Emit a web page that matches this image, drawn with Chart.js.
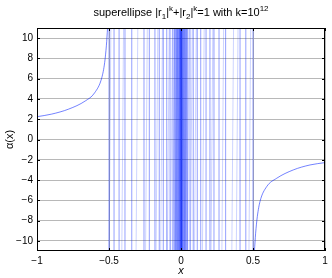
<!DOCTYPE html>
<html>
<head>
<meta charset="utf-8">
<script src="https://cdn.jsdelivr.net/npm/chart.js@4/dist/chart.umd.min.js"></script>
<style>
  html, body { margin: 0; padding: 0; background: #fff; }
  #wrap { width: 332px; height: 278px; }
</style>
</head>
<body>
<div id="wrap"><canvas id="superChart"></canvas></div>
<script>
// values
var xTicks = [-1, -0.5, 0, 0.5, 1];
var yTicks = [-10, -8, -6, -4, -2, 0, 2, 4, 6, 8, 10];

// outer branches
var leftX = [-1, -0.9, -0.78, -0.665, -0.6, -0.55, -0.53, -0.518, -0.51];
var leftY = [2.25, 2.5, 3.0, 3.8, 4.6, 6.1, 7.6, 9.3, 11];
var rightX = [0.51, 0.518, 0.53, 0.549, 0.595, 0.665, 0.78, 0.896, 1];
var rightY = [-11, -9.3, -7.6, -6.1, -4.65, -3.82, -3.0, -2.51, -2.28];

// near vertical branches between -0.5 and 0.5
var darkLines = [-0.5, -0.465, -0.43, -0.389, -0.342, -0.257, -0.22, -0.181, -0.151, -0.123, -0.099, -0.076,
  -0.056, -0.046, -0.038, -0.031, -0.025, -0.02, -0.015, -0.011, -0.007, -0.004, -0.002, 0,
  0.002, 0.004, 0.007, 0.011, 0.015, 0.02, 0.025, 0.031, 0.038, 0.046, 0.0625,
  0.085, 0.113, 0.137, 0.174, 0.201, 0.229, 0.264, 0.31, 0.41, 0.45, 0.5];
var paleLines = [-0.493, -0.405, -0.306, -0.24, -0.167, -0.135, -0.088, -0.066, -0.05, -0.035, -0.028, -0.017,
  -0.009, 0.009, 0.017, 0.028, 0.035, 0.05, 0.072, 0.1, 0.155, 0.215, 0.29, 0.359, 0.39, 0.478];

function vertPoints(list, slant) {
  var pts = [];
  list.forEach(function (x) {
    pts.push({x: x - slant, y: -11});
    pts.push({x: x + slant, y: 11});
    pts.push({x: x, y: null});
  });
  return pts;
}

function zipPoints(xs, ys) {
  return xs.map(function (x, i) { return {x: x, y: ys[i]}; });
}

var fontName = '"Liberation Sans", Arial, Helvetica, sans-serif';

//title with sub/superscripts
var titlePlugin = {
  id: 'mlTitle',
  afterDraw: function (chart) {
    var ctx = chart.ctx;
    var parts = [
      ['superellipse |r', 0], ['1', -1], ['|', 0], ['k', 1], ['+|r', 0], ['2', -1],
      ['|', 0], ['k', 1], ['=1 with k=10', 0], ['12', 1]
    ];
    var total = 0;
    parts.forEach(function (p) {
      ctx.font = (p[1] ? 8 : 11) + 'px ' + fontName;
      total += ctx.measureText(p[0]).width;
    });
    var area = chart.chartArea;
    var x = (area.left + area.right) / 2 - total / 2;
    var base = 16;
    ctx.save();
    ctx.fillStyle = '#000';
    ctx.textBaseline = 'alphabetic';
    ctx.textAlign = 'left';
    parts.forEach(function (p) {
      ctx.font = (p[1] ? 8 : 11) + 'px ' + fontName;
      var dy = p[1] === 1 ? -5 : (p[1] === -1 ? 3 : 0);
      ctx.fillText(p[0], x, base + dy);
      x += ctx.measureText(p[0]).width;
    });
    ctx.restore();
  }
};

// axes box and inward ticks
var boxPlugin = {
  id: 'mlBox',
  afterDatasetsDraw: function (chart) {
    var ctx = chart.ctx;
    var a = chart.chartArea;
    var xs = chart.scales.x, ys = chart.scales.y;
    ctx.save();
    ctx.strokeStyle = '#000';
    ctx.lineWidth = 1;
    ctx.strokeRect(a.left + 0.5, a.top + 0.5, a.right - a.left - 1, a.bottom - a.top - 1);
    ctx.beginPath();
    xTicks.forEach(function (t) {
      var px = Math.round(xs.getPixelForValue(t)) + 0.5;
      ctx.moveTo(px, a.bottom); ctx.lineTo(px, a.bottom - 3);
      ctx.moveTo(px, a.top); ctx.lineTo(px, a.top + 3);
    });
    yTicks.forEach(function (t) {
      var py = Math.round(ys.getPixelForValue(t)) + 0.5;
      ctx.moveTo(a.left, py); ctx.lineTo(a.left + 3, py);
      ctx.moveTo(a.right, py); ctx.lineTo(a.right - 3, py);
    });
    ctx.stroke();
    ctx.restore();
  }
};

function minusSign(v) {
  return String(v).replace('-', '\u2212');
}

var ctx = document.getElementById('superChart').getContext('2d');
var superChart = new Chart(ctx, {
  type: 'line',
  data: {
    datasets: [
      {
        data: vertPoints(paleLines, 0.006),
        borderColor: 'rgba(0, 40, 255, 0.2)',
        borderWidth: 1, pointRadius: 0, spanGaps: false
      },
      {
        data: vertPoints(darkLines, 0),
        borderColor: 'rgba(0, 30, 255, 0.42)',
        borderWidth: 1, pointRadius: 0, spanGaps: false
      },
      {
        data: zipPoints(leftX, leftY),
        borderColor: 'rgba(0, 30, 255, 0.55)',
        borderWidth: 1, pointRadius: 0, cubicInterpolationMode: 'monotone'
      },
      {
        data: zipPoints(rightX, rightY),
        borderColor: 'rgba(0, 30, 255, 0.55)',
        borderWidth: 1, pointRadius: 0, cubicInterpolationMode: 'monotone'
      }
    ]
  },
  options: {
    responsive: true,
    maintainAspectRatio: false,
    animation: false,
    layout: { padding: { top: 28, right: 7, left: 0, bottom: 0 } },
    plugins: {
      legend: { display: false },
      tooltip: { enabled: false },
      title: { display: false }
    },
    scales: {
      x: {
        type: 'linear', min: -1, max: 1,
        afterBuildTicks: function (s) { s.ticks = xTicks.map(function (v) { return {value: v}; }); },
        afterFit: function (s) { s.height = 27; },
        grid: { color: '#b8b8b8', borderDash: [1, 2], drawTicks: false, lineWidth: 1 },
        border: { display: false },
        ticks: {
          color: '#000', padding: 4, maxRotation: 0,
          font: { family: fontName, size: 10 },
          callback: function (v) { return minusSign(v); }
        },
        title: {
          display: true, text: 'x', color: '#000', padding: 0,
          font: { family: fontName, size: 11, style: 'italic' }
        }
      },
      y: {
        type: 'linear', min: -11, max: 11,
        afterBuildTicks: function (s) { s.ticks = yTicks.map(function (v) { return {value: v}; }); },
        afterFit: function (s) { s.width = 37; },
        grid: { color: '#b8b8b8', borderDash: [1, 2], drawTicks: false, lineWidth: 1 },
        border: { display: false },
        ticks: {
          color: '#000', padding: 4,
          font: { family: fontName, size: 10 },
          callback: function (v) { return minusSign(v); }
        },
        title: {
          display: true, text: '\u03b1(x)', color: '#000', padding: { top: 3, bottom: 0 },
          font: { family: fontName, size: 11 }
        }
      }
    }
  },
  plugins: [titlePlugin, boxPlugin]
});
</script>
</body>
</html>
